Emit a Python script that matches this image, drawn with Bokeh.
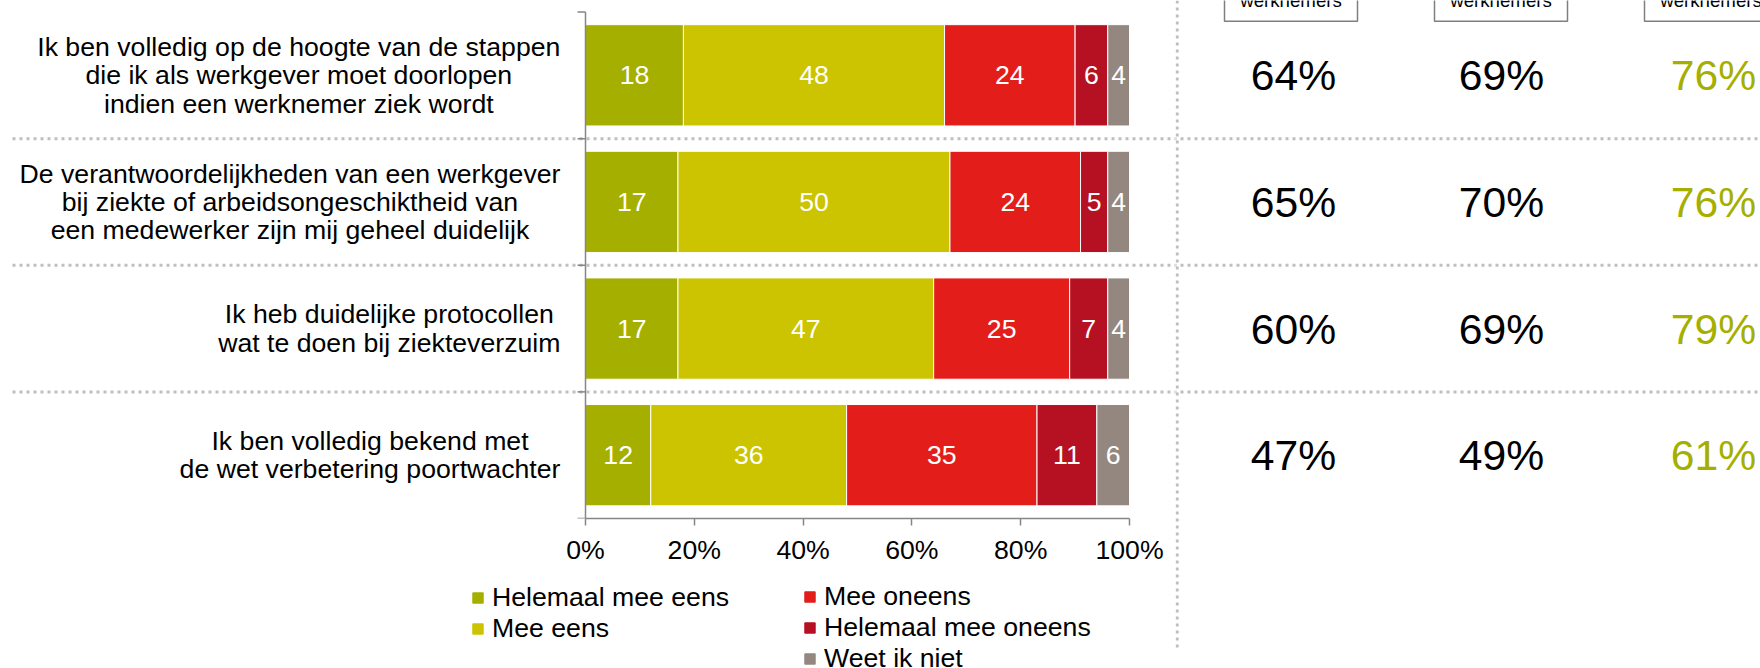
from bokeh.plotting import figure
from bokeh.models import (Range1d, FixedTicker, PrintfTickFormatter, Legend,
                          LegendItem, ColumnDataSource)
from bokeh.layouts import row, column
from bokeh.embed import file_html
from bokeh.resources import INLINE
from bokeh.core.properties import value

# ------------------------------------------------------------------ data
categories = [
    "Ik ben volledig op de hoogte van de stappen\ndie ik als werkgever moet doorlopen\nindien een werknemer ziek wordt",
    "De verantwoordelijkheden van een werkgever\nbij ziekte of arbeidsongeschiktheid van\neen medewerker zijn mij geheel duidelijk",
    "Ik heb duidelijke protocollen\nwat te doen bij ziekteverzuim",
    "Ik ben volledig bekend met\nde wet verbetering poortwachter",
]
series_names = ["Helemaal mee eens", "Mee eens", "Mee oneens",
                "Helemaal mee oneens", "Weet ik niet"]
helemaal_mee_eens = [18, 17, 17, 12]
mee_eens = [48, 50, 47, 36]
mee_oneens = [24, 24, 25, 35]
helemaal_mee_oneens = [6, 5, 7, 11]
weet_ik_niet = [4, 4, 4, 6]
series_colors = ["#A5AF00", "#CCC400", "#E31D1A", "#B51123", "#948780"]
x_ticks = [0, 20, 40, 60, 80, 100]
panel_header = "werknemers"
panel_col1 = [64, 65, 60, 47]
panel_col2 = [69, 70, 69, 49]
panel_col3 = [76, 76, 79, 61]
panel_colors = ["#000000", "#000000", "#A5AF00"]

# ------------------------------------------------------------------ layout helpers
FONT = "Liberation Sans"
FS = "26.67px"
TOTAL_W, TOTAL_H = 1760, 668
X0_PAGE, X100_PAGE = 585.0, 1129.0
PX_PER = (X100_PAGE - X0_PAGE) / 100.0


def dx(px):
    return (px - X0_PAGE) / PX_PER


Y0_PAGE, Y4_PAGE = 11.5, 518.0
PY_PER = (Y4_PAGE - Y0_PAGE) / 4.0


def dy(py):
    return (py - Y0_PAGE) / PY_PER


LEFT_W = 1175
RIGHT_W = TOTAL_W - LEFT_W
TOP_H = 568
BOT_H = TOTAL_H - TOP_H
SEP_COLOR = "#BFBFBF"
AXIS_COLOR = "#868686"

# Arial / Liberation Sans advance widths (1/1000 em), to right-align label blocks
CW = dict(a=556, b=556, c=500, d=556, e=556, f=278, g=556, h=556, i=222, j=222,
          k=500, l=222, m=833, n=556, o=556, p=556, q=556, r=333, s=500, t=278,
          u=556, v=500, w=722, x=500, y=500, z=500, I=278, D=722)
CW[" "] = 278


def text_w(s, size=26.67):
    return sum(CW.get(ch, 556) for ch in s) / 1000.0 * size


LABEL_RIGHT_PAGE = 560.0

n = len(categories)
rows_y = [i + 0.5 for i in range(n)]
stack = [helemaal_mee_eens, mee_eens, mee_oneens, helemaal_mee_oneens, weet_ik_niet]

# ------------------------------------------------------------------ main (top-left) figure
p = figure(width=LEFT_W, height=TOP_H,
           x_range=Range1d(dx(0), dx(LEFT_W)),
           y_range=Range1d(4, dy(0)),
           output_backend="svg", toolbar_location=None,
           y_axis_location=None, x_axis_location="below",
           min_border_left=0, min_border_right=0, min_border_top=0,
           min_border_bottom=TOP_H - int(Y4_PAGE))
p.outline_line_color = None
p.grid.visible = False

ax = p.xaxis[0]
ax.bounds = (0, 100)
ax.ticker = FixedTicker(ticks=x_ticks)
ax.formatter = PrintfTickFormatter(format="%d%%")
ax.minor_tick_line_color = None
ax.major_tick_in = 0
ax.major_tick_out = 7
ax.axis_line_color = AXIS_COLOR
ax.axis_line_width = 1.5
ax.major_tick_line_color = AXIS_COLOR
ax.major_tick_line_width = 1.5
ax.major_label_text_font = FONT
ax.major_label_text_font_size = FS
ax.major_label_text_color = "black"
ax.major_label_standoff = 9

# separators (dotted)
p.segment(x0=dx(12), x1=dx(LEFT_W + 2), y0=[1, 2, 3], y1=[1, 2, 3],
          line_color=SEP_COLOR, line_width=3, line_dash="3 4")

# stacked bars
src = ColumnDataSource(dict(y=rows_y, **{nm: vals for nm, vals in zip(series_names, stack)}))
p.hbar_stack(series_names, y="y", height=0.8, color=series_colors, source=src,
             line_color="white", line_width=1)

# vertical category axis line with boundary ticks
p.segment(x0=[0], x1=[0], y0=[0], y1=[n], line_color=AXIS_COLOR, line_width=1.5)
bounds_y = list(range(n + 1))
p.segment(x0=dx(X0_PAGE - 8), x1=0, y0=bounds_y, y1=bounds_y,
          line_color=AXIS_COLOR, line_width=1.5)

# segment value labels
lx, ly, lt = [], [], []
for i in range(n):
    left = 0
    for s in stack:
        v = s[i]
        lx.append(left + v / 2.0)
        ly.append(rows_y[i])
        lt.append(str(v))
        left += v
p.text(x=lx, y=ly, text=lt, text_color="white", text_align="center",
       text_baseline="middle", text_font=value(FONT), text_font_size=FS)

# category labels: centred lines, block right-aligned next to the axis
cx = []
for c in categories:
    w = max(text_w(line) for line in c.split("\n"))
    cx.append(dx(LABEL_RIGHT_PAGE - w / 2.0))
p.text(x=cx, y=rows_y, text=categories, text_color="black", text_align="center",
       text_baseline="middle", text_font=value(FONT), text_font_size=FS,
       text_line_height=0.94)

# ------------------------------------------------------------------ legend figure (bottom-left)
q = figure(width=LEFT_W, height=BOT_H, x_range=Range1d(0, 1), y_range=Range1d(0, 1),
           output_backend="svg", toolbar_location=None,
           x_axis_location=None, y_axis_location=None, min_border=0)
q.outline_line_color = None
q.grid.visible = False
rends = [q.hbar(y=[-5], left=[0], right=[0], height=0.1, fill_color=c, line_color=c)
         for c in series_colors]


def make_legend(idx, loc):
    return Legend(items=[LegendItem(label=series_names[k], renderers=[rends[k]]) for k in idx],
                  location=loc, orientation="vertical", padding=0, margin=0, spacing=0,
                  border_line_color=None, background_fill_alpha=0,
                  glyph_width=13, glyph_height=13, label_standoff=8,
                  label_text_font=FONT, label_text_font_size=FS,
                  label_text_color="black", label_height=28)


q.add_layout(make_legend([0, 1], (471, 24)))
q.add_layout(make_legend([2, 3, 4], (803, -6)))

# ------------------------------------------------------------------ right panel figure
r = figure(width=RIGHT_W, height=TOTAL_H,
           x_range=Range1d(dx(LEFT_W), dx(TOTAL_W)),
           y_range=Range1d(dy(TOTAL_H), dy(0)),
           output_backend="svg", toolbar_location=None,
           x_axis_location=None, y_axis_location=None, min_border=0)
r.outline_line_color = None
r.grid.visible = False

r.segment(x0=dx(LEFT_W - 2), x1=dx(TOTAL_W + 2), y0=[1, 2, 3], y1=[1, 2, 3],
          line_color=SEP_COLOR, line_width=3, line_dash="3 4")
r.segment(x0=[dx(1176.7)], x1=[dx(1176.7)], y0=[dy(0)], y1=[dy(648)],
          line_color=SEP_COLOR, line_width=3, line_dash="3 4")

box_lefts = [1224, 1434, 1644]
box_w = 133
col_centers = [1293, 1501, 1713]
r.quad(left=[dx(b) for b in box_lefts], right=[dx(b + box_w) for b in box_lefts],
       top=[dy(-30)] * 3, bottom=[dy(20.7)] * 3,
       fill_color=None, line_color="#7F7F7F", line_width=1.5)
r.text(x=[dx(b + box_w / 2.0) for b in box_lefts], y=[dy(-0.5)] * 3,
       text=[panel_header] * 3, text_align="center", text_baseline="alphabetic",
       text_color="black", text_font=value(FONT), text_font_size="18.67px")

for col_vals, ccx, ccol in zip([panel_col1, panel_col2, panel_col3], col_centers, panel_colors):
    r.text(x=[dx(ccx)] * n, y=rows_y, text=[f"{v}%" for v in col_vals],
           text_align="center", text_baseline="middle", text_color=ccol,
           text_font=value(FONT), text_font_size="42.67px")

layout = row(column(p, q), r)
open("out.html", "w").write(file_html(layout, INLINE))
